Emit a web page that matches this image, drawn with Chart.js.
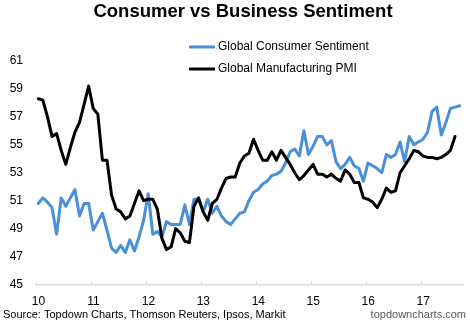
<!DOCTYPE html>
<html>
<head>
<meta charset="utf-8">
<script src="https://cdn.jsdelivr.net/npm/chart.js@4.4.0/dist/chart.umd.min.js"></script>
<style>
  html, body { margin: 0; padding: 0; background: #fff; }
</style>
</head>
<body>
<canvas id="myChart" width="470" height="323"></canvas>
<script>
// monthly data, Jan 2010 onwards
const startYear = 2010
const yearLabels = ['10', '11', '12', '13', '14', '15', '16', '17']

const consumerSentiment = [
  50.8, 51.2, 50.9, 50.5, 48.6, 51.2, 50.6, 51.2, 51.8, 49.9, 50.8, 50.8,
  48.9, 49.5, 50.1, 48.9, 47.6, 47.3, 47.8, 47.3, 48.2, 47.4, 48.4, 49.6,
  51.5, 48.6, 48.8, 48.4, 49.5, 49.3, 49.3, 49.3, 50.7, 49.3, 51.1, 51.1,
  50.2, 51.1, 50.1, 50.6, 49.9, 49.5, 49.3, 49.7, 50.1, 50.2, 51.0, 51.6,
  51.8, 52.2, 52.4, 52.8, 52.9, 53.1, 53.7, 54.5, 54.7, 54.2, 56.0, 54.3,
  54.9, 55.6, 55.6, 55.0, 55.3, 53.8, 53.3, 53.6, 54.1, 53.5, 53.3, 52.4,
  53.7, 53.5, 53.3, 53.0, 54.3, 54.1, 54.3, 55.2, 53.8, 55.6, 55.0, 55.2,
  55.4, 55.9, 57.4, 57.7, 55.7, 56.6, 57.6, 57.7, 57.8
]

const manufacturingPmi = [
  58.3, 58.2, 57.0, 55.6, 55.8, 54.6, 53.6, 54.8, 55.9, 56.6, 57.9, 59.2,
  57.6, 57.2, 53.9, 53.9, 51.4, 50.4, 50.2, 49.7, 49.9, 50.8, 51.7, 51.0,
  51.1, 51.1, 50.4, 48.3, 47.5, 47.7, 49.0, 48.7, 48.1, 48.0, 50.6, 51.2,
  50.2, 49.6, 50.8, 51.1, 51.9, 52.6, 52.7, 52.7, 53.7, 54.2, 54.4, 55.4,
  54.6, 53.9, 53.9, 54.5, 53.9, 54.6, 54.1, 53.6, 53.0, 52.5, 52.8, 53.2,
  53.6, 52.9, 52.9, 52.7, 52.9, 52.6, 52.4, 53.2, 52.9, 52.3, 52.3, 51.2,
  51.1, 50.9, 50.5, 51.1, 51.9, 51.6, 51.7, 53.0, 53.5, 54.0, 54.6, 54.5,
  54.2, 54.1, 54.1, 54.0, 54.1, 54.3, 54.6, 55.6
]

const seriesNames = ['Global Consumer Sentiment', 'Global Manufacturing PMI']
const fontFamily = '"Liberation Sans", Arial, sans-serif'

// monthly points sit mid-month on a year axis
const toPoints = (values) => values.map((v, i) => ({ x: startYear + (i + 0.5) / 12, y: v }))

const extras = {
  id: 'extras',
  afterDraw(chart) {
    const ctx = chart.ctx
    const xs = chart.scales.x
    ctx.save()

    // small inside tick marks on the x axis
    ctx.strokeStyle = '#d9d9d9'
    ctx.lineWidth = 1
    ctx.beginPath()
    xs.ticks.forEach((t) => {
      const px = Math.round(xs.getPixelForValue(t.value)) + 0.5
      ctx.moveTo(px, xs.top)
      ctx.lineTo(px, xs.top - 3)
    })
    ctx.stroke()

    // title
    ctx.fillStyle = '#000'
    ctx.textBaseline = 'middle'
    ctx.textAlign = 'center'
    ctx.font = 'bold 18.5px ' + fontFamily
    ctx.fillText('Consumer vs Business Sentiment', 243, 12)

    // legend
    ctx.textAlign = 'left'
    ctx.font = '12px ' + fontFamily
    chart.data.datasets.forEach((ds, i) => {
      const y = 47 + i * 22
      ctx.strokeStyle = ds.borderColor
      ctx.lineWidth = 3
      ctx.beginPath()
      ctx.moveTo(189, y)
      ctx.lineTo(215, y)
      ctx.stroke()
      ctx.fillStyle = '#000'
      ctx.fillText(ds.label, 218, y)
    })

    // source line
    ctx.font = '11px ' + fontFamily
    ctx.fillStyle = '#000'
    ctx.fillText('Source: Topdown Charts, Thomson Reuters, Ipsos, Markit', 3, 315)
    ctx.textAlign = 'right'
    ctx.fillStyle = '#595959'
    ctx.fillText('topdowncharts.com', 466, 315)
    ctx.restore()
  }
}

const tickFont = { family: fontFamily, size: 12 }

new Chart(document.getElementById('myChart'), {
  type: 'line',
  data: {
    datasets: [
      {
        label: seriesNames[0],
        data: toPoints(consumerSentiment),
        borderColor: '#4a90d9',
        borderWidth: 3,
        pointRadius: 0,
        tension: 0,
        order: 1
      },
      {
        label: seriesNames[1],
        data: toPoints(manufacturingPmi),
        borderColor: '#000000',
        borderWidth: 3,
        pointRadius: 0,
        tension: 0,
        order: 0
      }
    ]
  },
  options: {
    responsive: false,
    animation: false,
    layout: { padding: { top: 61, left: 9.5, right: 7, bottom: 4 } },
    plugins: {
      legend: { display: false },
      title: { display: false },
      tooltip: { enabled: false }
    },
    elements: { line: { borderJoinStyle: 'round', borderCapStyle: 'round' } },
    scales: {
      x: {
        type: 'linear',
        min: 2010,
        max: 2017.77,
        grid: { display: false, drawTicks: false },
        border: { display: true, color: '#d9d9d9', width: 1.5 },
        afterFit: (s) => { s.height = 34.5 },
        ticks: {
          stepSize: 1,
          includeBounds: false,
          autoSkip: false,
          maxRotation: 0,
          padding: 10,
          labelOffset: 2.5,
          color: '#000',
          font: tickFont,
          callback: (v) => yearLabels[Math.round(v) - startYear]
        }
      },
      y: {
        min: 45,
        max: 61,
        grid: { display: false, drawTicks: false },
        border: { display: false },
        afterFit: (s) => { s.width = 26.5 },
        ticks: { stepSize: 2, padding: 13, color: '#000', font: tickFont }
      }
    }
  },
  plugins: [extras]
})
</script>
</body>
</html>
